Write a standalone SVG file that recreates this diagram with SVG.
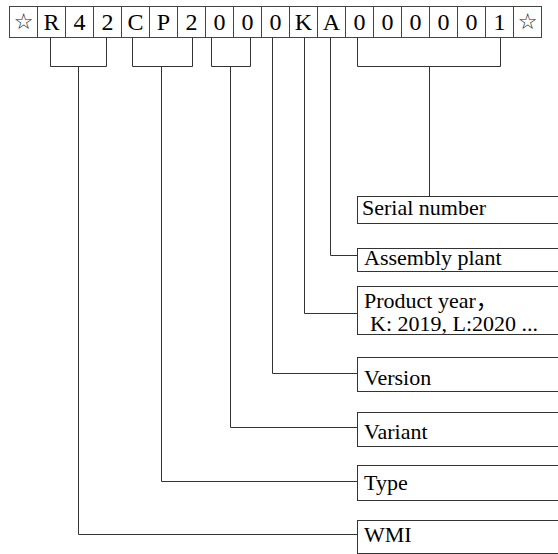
<svg xmlns="http://www.w3.org/2000/svg" width="558" height="554" viewBox="0 0 558 554">
<style>
.cell{fill:#fff;stroke:#444;stroke-width:1}
.ct{font-family:"Liberation Serif","Noto Sans CJK SC",serif;font-size:24px;fill:#000;text-anchor:middle}
.star{font-family:"DejaVu Sans",sans-serif;font-size:22px;fill:#222;text-anchor:middle}
.box{fill:#fff;stroke:#333;stroke-width:1}
.lt{font-family:"Liberation Serif","Noto Sans CJK SC",serif;font-size:22px;fill:#000}
.con{fill:none;stroke:#333;stroke-width:1}
</style>
<rect width="558" height="554" fill="#fff"/>
<g id="code">
<rect class="cell" x="9.5" y="6.5" width="28" height="31"/>
<rect class="cell" x="37.5" y="6.5" width="28" height="31"/>
<rect class="cell" x="65.5" y="6.5" width="28" height="31"/>
<rect class="cell" x="93.5" y="6.5" width="28" height="31"/>
<rect class="cell" x="121.5" y="6.5" width="28" height="31"/>
<rect class="cell" x="149.5" y="6.5" width="28" height="31"/>
<rect class="cell" x="177.5" y="6.5" width="28" height="31"/>
<rect class="cell" x="205.5" y="6.5" width="28" height="31"/>
<rect class="cell" x="233.5" y="6.5" width="28" height="31"/>
<rect class="cell" x="261.5" y="6.5" width="28" height="31"/>
<rect class="cell" x="289.5" y="6.5" width="28" height="31"/>
<rect class="cell" x="317.5" y="6.5" width="28" height="31"/>
<rect class="cell" x="345.5" y="6.5" width="28" height="31"/>
<rect class="cell" x="373.5" y="6.5" width="28" height="31"/>
<rect class="cell" x="401.5" y="6.5" width="28" height="31"/>
<rect class="cell" x="429.5" y="6.5" width="28" height="31"/>
<rect class="cell" x="457.5" y="6.5" width="28" height="31"/>
<rect class="cell" x="485.5" y="6.5" width="28" height="31"/>
<rect class="cell" x="513.5" y="6.5" width="28" height="31"/>
<text class="star" x="23.5" y="29">☆</text>
<text class="ct" x="51.5" y="30">R</text>
<text class="ct" x="79.5" y="30">4</text>
<text class="ct" x="107.5" y="30">2</text>
<text class="ct" x="135.5" y="30">C</text>
<text class="ct" x="163.5" y="30">P</text>
<text class="ct" x="191.5" y="30">2</text>
<text class="ct" x="219.5" y="30">0</text>
<text class="ct" x="247.5" y="30">0</text>
<text class="ct" x="275.5" y="30">0</text>
<text class="ct" x="303.5" y="30">K</text>
<text class="ct" x="331.5" y="30">A</text>
<text class="ct" x="359.5" y="30">0</text>
<text class="ct" x="387.5" y="30">0</text>
<text class="ct" x="415.5" y="30">0</text>
<text class="ct" x="443.5" y="30">0</text>
<text class="ct" x="471.5" y="30">0</text>
<text class="ct" x="499.5" y="30">1</text>
<text class="star" x="527.5" y="29">☆</text>
</g>
<g id="connectors">
<path class="con" d="M50.5,37.5V66.5H106.5V37.5M78.5,66.5V534.5H357.5"/>
<path class="con" d="M132.5,37.5V66.5H192.5V37.5M161.5,66.5V481.5H357.5"/>
<path class="con" d="M211.5,37.5V66.5H250.5V37.5M230.5,66.5V427.5H357.5"/>
<path class="con" d="M272.5,37.5V373.5H357.5"/>
<path class="con" d="M304.5,37.5V313.5H357.5"/>
<path class="con" d="M330.5,37.5V255.5H357.5"/>
<path class="con" d="M357.5,37.5V66.5H500.5V37.5M429.5,66.5V196.5"/>
</g>
<g id="serial">
<rect class="box" x="357.5" y="196.5" width="220" height="27"/>
<text class="lt" x="362" y="215">Serial number</text>
</g>
<g id="assembly">
<rect class="box" x="357.5" y="248.5" width="220" height="23"/>
<text class="lt" x="364" y="265">Assembly plant</text>
</g>
<g id="year">
<rect class="box" x="357.5" y="286.5" width="220" height="48"/>
<text class="lt" x="364" y="308">Product year，</text>
<text class="lt" x="370" y="331">K: 2019, L:2020 ...</text>
</g>
<g id="version">
<rect class="box" x="357.5" y="357.5" width="220" height="34"/>
<text class="lt" x="364" y="385">Version</text>
</g>
<g id="variant">
<rect class="box" x="357.5" y="412.5" width="220" height="34"/>
<text class="lt" x="364" y="439">Variant</text>
</g>
<g id="type">
<rect class="box" x="357.5" y="465.5" width="220" height="35"/>
<text class="lt" x="364" y="490">Type</text>
</g>
<g id="wmi">
<rect class="box" x="357.5" y="520.5" width="220" height="33"/>
<text class="lt" x="364" y="542">WMI</text>
</g>
</svg>
